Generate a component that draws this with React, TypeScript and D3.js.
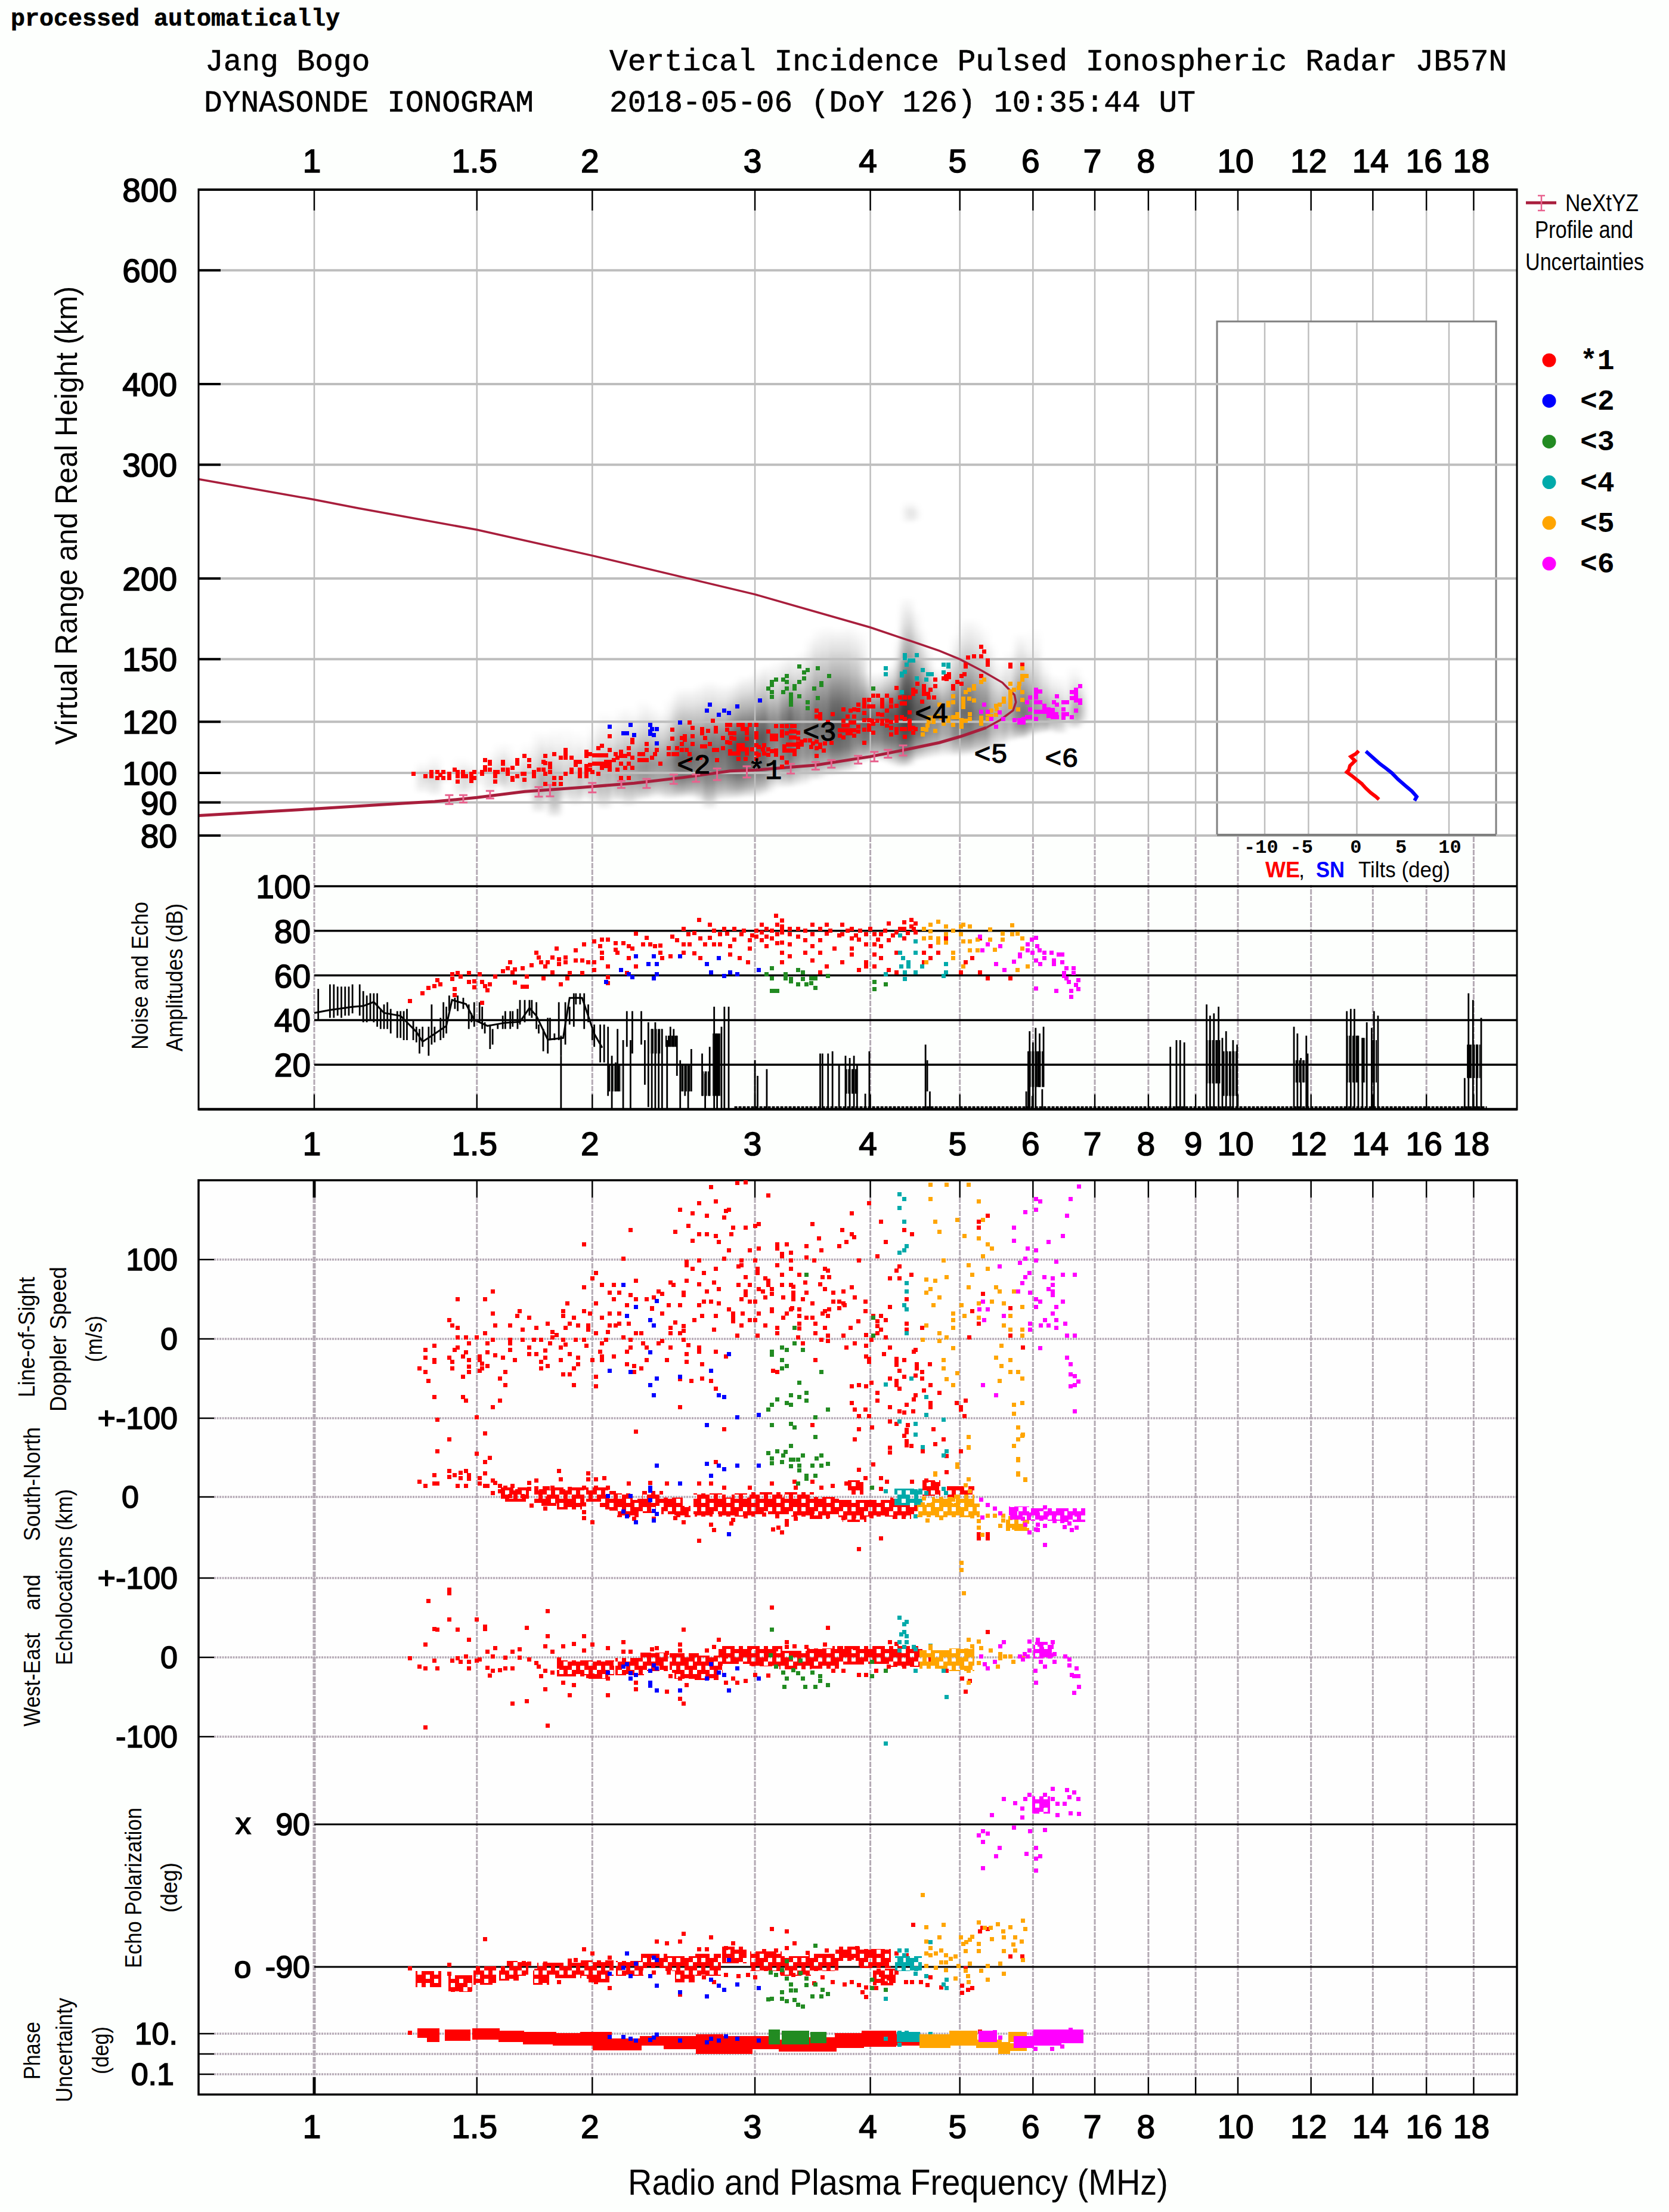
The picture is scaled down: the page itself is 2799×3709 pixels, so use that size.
import * as d3 from "d3";
import { useEffect, useRef } from "react";

const W = 2799;
const H = 3709;
const SANS = '"Liberation Sans", Arial, sans-serif';
const MONO = '"Liberation Mono", monospace';

const gridFreqs = [1, 1.5, 2, 3, 4, 5, 6, 7, 8, 9, 10, 12, 14, 16, 18];
const topLabels = [1, 1.5, 2, 3, 4, 5, 6, 7, 8, 10, 12, 14, 16, 18];
const midLabels = [1, 1.5, 2, 3, 4, 5, 6, 7, 8, 9, 10, 12, 14, 16, 18];
const heightTicks = [800, 600, 400, 300, 200, 150, 120, 100, 90, 80];
const ampTicks = [100, 80, 60, 40, 20];
const tiltGrid = [-10, -5.25, 0, 10];
const tiltLabels = [["-10", -10.4], ["-5", -6], ["0", -0.1], ["5", 4.8], ["10", 10.1]];

const seriesColors = ["#ff0000", "#0000ff", "#228b22", "#00aaaa", "#ffa500", "#ff00ff"];
const seriesNames = ["*1", "<2", "<3", "<4", "<5", "<6"];
// where the layer names sit on the ionogram, frequency and height of the text start
const traceLabels = [["*1", 2.95, 97.9], ["<2", 2.47, 99.8], ["<3", 3.38, 112.1], ["<4", 4.47, 119.8], ["<5", 5.18, 103.7], ["<6", 6.18, 102.2]];

// NeXtYZ profile, up the underside and back along the top side
const profileF = [0.75, 1, 1.255, 1.35, 1.5, 1.69, 1.95, 2.22, 2.51, 2.82, 3, 3.28, 3.49, 3.75, 4, 4.22, 4.47, 4.75, 5, 5.34, 5.53, 5.71, 5.75, 5.73, 5.56, 5.28, 5, 4.75, 4.37, 4, 3, 2, 1.5, 1.115, 1, 0.75];
const profileH = [85.9, 88, 89.8, 90.3, 91.6, 93.6, 95, 96.4, 98.4, 100.7, 101, 102.1, 102.8, 104.5, 106, 107.6, 109.4, 111.4, 113.8, 117.5, 120.8, 125, 128.7, 132, 138, 144, 150, 154.6, 161, 168, 189, 217, 238, 257, 265, 285];
// f, low, high
const profileErr = [[1.4, 89.5, 92.4], [1.45, 90, 92.4], [1.55, 91.3, 93.8], [1.75, 91.9, 95.1], [1.8, 92, 95.8], [2, 93.3, 96.5], [2.15, 94.8, 97.2], [2.29, 94.8, 97.9], [2.45, 96.2, 99.4], [2.59, 96.9, 99.5], [2.73, 97.5, 101.6], [2.94, 98.4, 102.4], [3.28, 99.8, 103.3], [3.49, 101.2, 104], [3.63, 101.9, 104.7], [3.88, 103.4, 106.3], [4.04, 104.2, 107.8], [4.18, 105.6, 108.6], [4.34, 106.4, 110.3]];

// raw echo amplitude behind the trace: f, top height, darkest height, bottom height, darkness
const echoHalo = [[1.31,104.7,98.5,92.8,.2],[1.33,100.4,98,96,.08],[1.35,107,98,92,.25],[1.38,101.8,98.5,96.2,.1],[1.44,106.3,98,92,.2],[1.47,105.5,98,92.8,.2],[1.5,103.3,98,95.5,.1],[1.55,108.6,99,92.8,.2],[1.59,111.7,100,94.8,.28],[1.62,111.7,100,92.8,.25],[1.67,108.6,98,92.8,.22],[1.7,111.7,99,92,.3],[1.75,116.6,96,86.4,.45],[1.78,115.8,98,90.8,.4],[1.82,117.5,94,85.2,.55],[1.87,118.3,98,90.2,.35],[1.92,116.6,98,88.9,.35],[1.96,114.9,98,90.8,.3],[2.01,120,100,89.5,.4],[2.06,125,100,87.6,.5],[2.11,123,101,90,.45],[2.15,126.5,101,90.2,.45],[2.19,127,102,88.5,.5],[2.23,124,102,90,.5],[2.27,130.2,102,90.8,.6],[2.31,128,103,91,.55],[2.35,126,103,92,.5],[2.39,124,103,91,.5],[2.43,130.6,104,90.8,.55],[2.47,134,105,91,.65],[2.5,136.4,105,91.5,.75],[2.54,135,106,91.5,.75],[2.58,136.4,106,91.5,.8],[2.63,138,107,90,.8],[2.68,139.4,107,87.6,.85],[2.73,138,108,90.5,.8],[2.78,137.4,108,90.8,.8],[2.83,137.4,110,91,.85],[2.87,139,110,91,.85],[2.91,141.8,110,91.5,.85],[2.95,141,112,91.5,.85],[3,143.1,113,91.5,.9],[3.05,146,113,92,.9],[3.1,147.6,115,93,.9],[3.18,149.5,116,94.6,.9],[3.25,152.1,117,94.6,.9],[3.3,152,118,95,.9],[3.38,154.8,119,95.5,.9],[3.46,163,119,97,.85],[3.52,168,120,97.5,.85],[3.59,169.1,120,98.8,.85],[3.65,168,120,99,.85],[3.7,167.6,120,99.7,.85],[3.76,169,120,100,.85],[3.82,169.1,120,100.6,.85],[3.9,166.2,121,103.3,.85],[3.96,143,121,104,.85],[4.03,143.5,122,104.5,.85],[4.11,143.1,122,104.1,.85],[4.18,146,123,103.5,.9],[4.25,148.2,123,102.3,.9],[4.32,161.8,124,101.5,.85],[4.37,187.9,125,102,.85],[4.4,187.9,125,102.3,.85],[4.47,179.8,126,104.1,.8],[4.53,168,126,104.5,.75],[4.6,157.6,126,105,.7],[4.68,146,125,105.5,.7],[4.77,145.6,125,106,.7],[4.89,154.8,124,106,.7],[4.97,165,124,106,.7],[5.05,173.6,124,106,.7],[5.12,174,124,106.5,.7],[5.2,173.6,123,106.9,.7],[5.3,169.1,123,107,.65],[5.38,160,123,107.8,.6],[5.53,149.5,123,109.8,.6],[5.67,154.8,123,111.7,.6],[5.8,165,124,112.7,.6],[5.85,164.8,124,112.7,.6],[5.95,155,124,114,.55],[6.03,167.6,124,114.7,.5],[6.15,150,123,115,.5],[6.25,143.1,123,115.8,.5],[6.41,141.8,123,114.7,.5],[6.65,147,124,116.8,.5],[6.75,141.8,125,118.8,.35],[4.41,265,254,243,.14],[4.46,262,252,245,.08]];

// tilts inset: tilt in deg, height in km
const tiltWE = [[.2,108.2],[-.1,107.1],[-.65,106],[-.2,104.4],[-.75,102.6],[-.87,101.1],[-1.09,100.3],[-.54,99],[0,97.6],[.54,96.2],[.98,94.7],[1.5,93.2],[2.07,91.9],[2.4,91]];
const tiltSN = [[.98,108],[1.63,106],[2.5,103.3],[3.15,101.7],[3.8,100],[4.46,97.8],[5.33,95.4],[5.98,93.7],[6.5,91.9],[6.26,90.6]];

// virtual height of the echoes, f and km. Blocks are dense patches: f1, f2, v1, v2
const hRed = [[1.28,99.6],[1.32,98.9],[1.34,98.9],[1.34,100.4],[1.36,100.4],[1.38,100.4],[1.36,98.2],[1.38,98.2],[1.37,99.2],[1.4,98.2],[1.4,99.6],[1.42,101.1],[1.43,100.4],[1.43,98.9],[1.43,96.9],[1.45,100.4],[1.45,98.9],[1.46,98.9],[1.48,99.6],[1.48,98.2],[1.48,97.2],[1.49,98.2],[1.49,100.4],[1.52,100.4],[1.52,99.6],[1.53,101.1],[1.55,101.1],[1.53,102.1],[1.55,103.3],[1.53,104.7],[1.55,104],[1.57,100.4],[1.57,98.9],[1.57,96.9],[1.58,100.4],[1.6,104],[1.6,103.3],[1.6,101.1],[1.62,101.1],[1.62,99.6],[1.64,101.8],[1.64,98.2],[1.64,97.5],[1.66,98.9],[1.66,104.7],[1.66,103.3],[1.68,99.6],[1.69,99.6],[1.69,97.5],[1.69,106.3],[1.71,104.7],[1.71,102.5],[1.73,100.4],[1.73,98.9],[1.75,101.1],[1.77,101.1],[1.77,104],[1.78,106.3],[1.78,103.6],[1.8,103.3],[1.8,100.4],[1.78,99.6],[1.8,102.1],[1.82,107],[1.82,98.2],[1.78,96.2],[1.82,96.2],[1.85,98.2],[1.85,96.2],[1.85,105.5],[1.87,105.5],[1.87,107],[1.87,108.6],[1.9,105.5],[1.92,104],[1.92,103],[1.94,104],[1.87,99.6],[1.9,101.1],[1.9,100.4],[1.94,101.1],[1.94,99.6],[1.94,98.9],[1.97,107.8],[1.97,106.3],[1.99,107],[2.01,106.4],[2.03,106.4],[2.05,106.4],[2.07,106.4],[2.03,109.3],[2.05,110.1],[2.09,108.6],[1.97,102.5],[1.97,101.1],[1.97,99.6],[1.97,98.9],[1.99,102.9],[1.99,101.1],[2.01,103.3],[2.03,103.3],[2.05,103.3],[2.07,104],[2.09,104],[2.09,102.5],[2.09,101.1],[2.03,99.6],[2,100.4],[2.05,101.8],[2.07,102.5],[2.15,98.2],[2.19,98.2],[2.13,101.1],[2.15,103.3],[2.17,101.8],[2.19,103.3],[2.21,101.8],[2.11,104.7],[2.13,105.5],[2.15,107.8],[2.15,106.3],[2.17,106.3],[2.19,107],[2.21,105.5],[2.19,109.3],[2.12,107],[2.09,114.1],[2.25,107],[2.25,104.7],[2.27,107],[2.27,104.7],[2.29,104.7],[2.32,105.5],[2.34,107],[2.35,108.6],[2.29,108.6],[2.29,110.9],[2.21,112.5],[2.21,111.7],[2.37,103.3],[2.44,116.6],[2.44,112.9],[2.42,109.3],[2.42,107],[2.45,107],[2.47,109.3],[2.47,107],[2.5,110.9],[2.5,113.3],[2.52,114.1],[2.52,112.5],[2.55,119.6],[2.57,117.5],[2.57,114.1],[2.57,110.9],[2.63,117],[2.63,115.2],[2.65,113.3],[2.67,116.2],[2.7,120.4],[2.72,117.5],[2.72,116],[2.5,108.6],[2.53,108.6],[2.55,107],[2.55,104.7],[2.62,105.5],[2.63,110],[2.65,110],[2.68,110.9],[2.71,108.6],[2.73,108.6],[2.73,104.7],[2.77,113.3],[2.77,109.3],[2.8,118.8],[2.8,116.6],[2.83,113.3],[2.8,111.7],
[2.82,118.8],[2.88,118.8],[2.91,118.8],[2.96,118.8],[3.01,118.8],[2.91,117],[2.94,117],[2.82,115.2],[2.85,115.2],[2.85,112.9],[2.82,111.3],[2.94,115.2],[2.94,112.9],[3.01,115.2],[3.01,113.5],[2.82,108],[2.88,110.3],[2.91,110.3],[2.88,108.7],[2.91,108.7],[2.94,108.7],[2.98,108.7],[2.82,107.2],[2.85,107.2],[2.88,107.2],[2.94,107.2],[2.88,105.2],[2.93,105.2],[3.01,110.3],[3.03,109.6],[3.06,108.7],[3.1,108.7],[3.13,108],[3.16,108.4],[3.01,107.2],[3.03,106.6],[3.01,105.2],[3.1,106.6],[3.16,106.6],[3.07,110.3],[3.07,107.2],[3.1,116],[3.16,118.2],[3.21,118.2],[3.25,118.2],[3.29,118.2],[3.31,118.2],[3.21,116],[3.21,114.3],[3.25,115.2],[3.28,116],[3.31,116],[3.34,115.5],[3.28,113.5],[3.31,113.5],[3.34,113],[3.13,114.3],[3.16,114.3],[3.13,112.7],[3.16,112.7],[3.23,109.9],[3.26,110.7],[3.29,110.7],[3.31,110.7],[3.34,111.1],[3.37,111.9],[3.4,112.3],[3.23,108.2],[3.26,108.4],[3.29,108.4],[3.31,108.4],[3.31,106.9],[3.37,110.7],[3.34,109.6],[3.21,105.5],[3.25,103.9],[3.21,102.2],[3.44,112.3],[3.47,111.1],[3.5,111.9],[3.53,110.7],[3.57,111.1],[3.63,111.3],[3.45,109.6],[3.5,109.2],[3.53,109.6],[3.56,108.4],[3.5,106.2],[3.5,124.8],[3.53,123.2],[3.5,122.2],[3.64,123.2],[3.53,121.6],[3.6,120],
[3.74,125.5],[3.81,125],[3.84,125.5],[3.88,127.7],[3.88,125.1],[3.78,122.3],[3.84,122.3],[3.74,120.4],[3.81,119.6],[3.74,118.4],[3.78,118.4],[3.71,116.5],[3.74,116.5],[3.78,116.5],[3.81,116.5],[3.84,116.5],[3.88,117.9],[3.94,120.6],[3.94,123.8],[3.71,114.3],[3.74,113.5],[3.78,115.1],[3.81,115.1],[3.84,114.3],[3.88,115.9],[3.84,119.6],[3.94,111.3],[4.03,115.5],[3.99,120.8],[3.99,118.4],[3.99,116.7],[3.94,116.7],[3.94,129.8],[3.99,129.8],[4.03,131.7],[4.08,131.7],[3.94,128.7],[3.94,126.8],[3.99,126.8],[4.03,126.8],[4.12,129.8],[4.12,128],[4.12,126.8],[4.21,129.8],[4.21,129],[4.21,126.8],[4.17,131.7],[4.17,124.8],[4.08,123.4],[4.12,123],[4.02,120.4],[4.07,120.4],[4.12,120.4],[4.17,120.4],[4.21,120],[4.03,119.2],[4.12,119.2],[4.17,118.4],[4.21,117.5],[4.21,114.7],[4.27,135.4],[4.27,127],[4.33,128],[4.36,128],[4.27,122.1],[4.33,122.1],[4.36,121.3],[4.41,124],[4.27,120.4],[4.41,120.4],[4.41,118.8],[4.27,117],[4.33,117],[4.36,117],[4.41,117],[4.45,117.5],[4.48,117],[4.27,115.5],[4.36,113.7],[4.45,115.5],[4.31,130.8],[4.36,130.8],[4.41,130.8],[4.45,132.6],[4.48,133.6],[4.45,134.5],[4.5,137.4],[4.57,136.4],[4.57,134.5],[4.57,132.6],[4.62,132.6],[4.63,130.8],[4.69,130.8],[4.65,134.5],[4.7,136.4],[4.7,139.4],[4.55,128.9],[4.83,141.2],[4.87,142.2],[4.8,140.2],[4.84,139.9],[4.87,140.7],[5.02,141.2],[5.06,142.2],[4.97,138.4],[5.02,137.4],[4.92,136.4],[4.92,135],[5.27,156.8],[5.31,154],[5.18,151.7],[5.27,151.7],[5.1,150.9],[5.07,147.1],[5.07,146.2],[5.36,149.2],[5.36,147.1],[5.27,141.2],[5.67,147.1],[5.67,146.2],[5.84,147.1]];
const hRedBlocks = [[2.25,2.4,104,107],[2.42,2.6,107,110],[2.6,2.85,108,112],[2.85,3.4,106,111],[3.4,3.65,110,113],[3.75,4,114,118],[4,4.2,119,123],[4.25,4.5,115,118],[4.3,4.5,130,133]];
const hBlue = [[2.09,117.8],[2.2,118.7],[2.16,115.3],[2.18,115.3],[2.22,114.4],[2.31,118.7],[2.32,117],[2.35,117],[2.31,115.9],[2.31,114.9],[2.33,114.4],[2.35,111.1],[2.49,119.6],[2.66,124.9],[2.68,127.6],[2.74,123],[2.78,124.9],[2.81,123.8],[2.87,126.7],[3.04,129.6]];
const hGreen = [[3.35,146.2],[3.51,145.2],[3.42,144.2],[3.39,143.1],[3.61,141.2],[3.25,141.2],[3.39,140.2],[3.16,139.4],[3.13,138.4],[3.22,139.4],[3.25,138.2],[3.35,138.2],[3.13,136.9],[3.54,137.8],[3.54,136.8],[3.31,136.4],[3.31,135],[3.1,135.2],[3.25,135.2],[3.48,135.2],[3.13,133.4],[3.13,131.2],[3.22,133.4],[3.28,132.4],[3.28,130.8],[3.28,129],[3.28,127.6],[3.35,131.5],[3.51,130.6],[3.42,128.7],[3.42,125.9],[4.03,135.2]];
const hTeal = [[4.36,152.1],[4.36,150.7],[4.49,152.1],[4.41,149.2],[4.45,149.2],[4.38,147.1],[4.8,147.1],[4.86,147.1],[4.86,146.2],[4.16,145.2],[4.16,142.2],[4.36,143.3],[4.33,142.6],[4.33,141.7],[4.56,144.2],[4.62,142.2],[4.66,142.2],[4.8,143.1],[4.49,140.2],[4.6,139.4],[4.33,133.4]];
const hOrange = [[5.84,145.2],[5.84,141.2],[5.9,141.2],[5.84,139.4],[5.8,137.4],[5.79,135.4],[5.67,137.4],[5.67,133.6],[5.72,134.5],[5.67,132],[5.84,133.4],[5.27,138.4],[5.31,139.4],[5.18,136.4],[5.18,135],[5.12,134.5],[5.07,133.4],[4.92,131.5],[4.92,128.7],[4.86,128.5],[4.86,127.2],[4.75,127.6],[5.04,130.3],[5.04,128.5],[5.04,126.6],[5.12,130.3],[5.18,129.5],[5.58,130.3],[5.58,129],[5.52,127.6],[5.47,127],[5.48,125.5],[5.41,124.8],[5.36,123.4],[5.47,123],[5.41,122.6],[5.36,121.3],[5.27,121.7],[5.27,120],[5.67,130.3],[5.67,128.5],[5.67,126.6],[5.84,129.8],[5.78,125.5],[4.63,121.7],[4.68,121.7],[4.63,120],[4.68,120],[4.73,122.6],[4.77,121.7],[4.86,121.7],[4.86,120.4],[4.8,119.2],[4.92,122.1],[4.97,123.4],[4.97,122.1],[4.92,118.8],[5.02,120.8],[5.07,120.4],[5.13,121.3],[5.02,119.2],[5.13,123.4],[5.02,117.9],[4.61,118.4],[4.56,117],[4.6,116.7],[4.7,116.2],[4.56,114.7],[5.27,119.2]];
const hPink = [[5.31,127.6],[5.27,124.3],[5.36,124.3],[5.52,124],[5.41,121.3],[5.47,117.9],[5.57,121.3],[5.73,120.8],[5.8,120.8],[5.8,119.6],[5.86,119.6],[5.86,121.3],[5.91,122.1],[5.96,122.1],[5.91,128.7],[5.96,130.8],[5.96,125.5],[6.05,134.5],[6.11,133.6],[6.05,132.6],[6.05,131],[6.05,128.7],[6.11,128.7],[6.17,127],[6.17,125.5],[6.24,125.5],[6.3,125.1],[6.3,123.4],[6.36,123.4],[6.05,124.3],[6.11,124.3],[6.17,124.3],[6.24,124.3],[6.05,121.3],[6.24,122.6],[6.3,122.1],[6.37,122.1],[6.37,131.4],[6.32,128.7],[6.37,127.6],[6.47,128.7],[6.53,128.7],[6.47,125.5],[6.47,123.4],[6.53,123.4],[6.47,121.7],[6.61,122.1],[6.68,124.8],[6.61,133.4],[6.68,134.5],[6.68,132.6],[6.75,136.2],[6.68,130.6],[6.61,130.6],[6.68,129.5],[6.75,129.5],[6.75,128.5]];

// noise spikes: f, low dB, high dB
const noiseSpikes = [[1.01,40,54],[1.04,41,56],[1.05,41,56],[1.06,42,55],[1.07,41,55],[1.08,42,55],[1.09,42,55],[1.1,43,56],[1.12,42,56],[1.13,39,53],[1.14,39,51],[1.15,40,52],[1.16,39,52],[1.17,37,52],[1.18,36,45],[1.19,36,47],[1.2,36,48],[1.21,34,45],[1.23,32,44],[1.24,32,44],[1.25,31,44],[1.26,31,45],[1.28,31,40],[1.29,30,37],[1.3,25,36],[1.31,28,37],[1.33,24,37],[1.34,29,47],[1.35,30,37],[1.37,31,41],[1.38,32,48],[1.39,34,46],[1.4,44,51],[1.42,45,50],[1.43,44,51],[1.45,45,50],[1.47,36,47],[1.48,39,43],[1.49,37,48],[1.51,39,48],[1.52,36,46],[1.53,34,39],[1.55,27,38],[1.56,29,36],[1.58,36,38],[1.6,36,42],[1.61,36,44],[1.63,36,44],[1.64,37,44],[1.66,36,45],[1.67,38,49],[1.69,39,49],[1.71,42,49],[1.72,41,49],[1.74,36,48],[1.75,34,38],[1.77,26,36],[1.79,25,41],[1.8,31,41],[1.82,31,34],[1.84,31,48],[1.85,0,24],[1.85,24,33],[1.87,29,48],[1.89,38,46],[1.91,37,52],[1.92,47,52],[1.94,47,52],[1.96,36,52],[1.98,39,47],[2,31,37],[2.01,28,38],[2.04,21,38],[2.06,21,38],[2.08,6,37],[2.1,0,24],[2.12,8,21],[2.13,8,36],[2.16,0,31],[2.18,28,44],[2.2,0,31],[2.21,25,44],[2.26,29,44],[2.28,11,31],[2.3,1,39],[2.32,0,36],[2.34,0,39],[2.36,0,34],[2.38,0,36],[2.41,0,31],[2.43,28,37],[2.45,28,36],[2.47,15,33],[2.49,0,22],[2.52,6,20],[2.54,0,20],[2.56,8,27],[2.63,6,25],[2.65,0,16],[2.68,6,28],[2.71,0,46],[2.73,0,34],[2.76,0,37],[2.78,0,46],[2.81,0,46],[3,0,22],[3.02,0,15],[3.09,0,18],[3.53,0,25],[3.55,0,25],[3.6,0,25],[3.64,0,26],[3.7,0,20],[3.76,0,24],[3.8,0,23],[3.84,0,24],[3.87,0,20],[3.95,0,7],[3.99,0,26],[4.59,0,29],[4.61,8,22],[4.64,0,8],[5.9,0,8],[5.93,0,26],[5.95,0,35],[5.99,0,6],[6,0,30],[6.04,0,36.5],[6.08,10,26],[6.1,10,34],[6.14,0,9],[6.16,10,37],[8.45,0,28],[8.58,0,31],[8.66,0,31],[8.75,0,30],[9.25,0,47],[9.33,0,42],[9.42,0,43],[9.53,0,46],[9.62,0,32],[9.71,0,35],[9.81,0,18],[9.88,0,31],[9.98,0,29],[11.5,0,37],[11.6,0,34],[11.7,0,23],[11.86,0,33],[11.9,0,25],[13.12,0,44],[13.25,0,45],[13.37,0,45],[13.5,0,33],[13.64,0,32],[13.79,0,39],[13.96,0,36.5],[14.04,0,44],[14.18,0,42],[17.6,0,14],[17.77,0,52],[17.97,0,49],[18.14,0,29],[18.34,0,41]];
// where the spikes run together: f1, f2, low, high
const noiseCores = [[9.24,9.57,11.6,31],[9.62,9.98,6,26],[13.12,13.5,12,33],[13.6,13.75,12,32],[13.96,14.14,12,31],[17.7,18.3,14,29],[5.93,6.16,10,26],[3.76,3.88,7,18],[2.7,2.76,6,34],[2.49,2.56,8,20],[2.63,2.68,6,17],[2.31,2.38,25,36],[2.4,2.47,28,33],[2.08,2.15,8,20],[11.5,11.9,12,22]];
const noiseMidF = [1,1.04,1.1,1.13,1.16,1.19,1.24,1.29,1.31,1.35,1.39,1.41,1.46,1.49,1.54,1.61,1.67,1.71,1.74,1.79,1.86,1.89,1.95,2.01,2.05];
const noiseMidDb = [43.2,44.5,45.9,46.3,48.1,43.2,41.9,34.7,30.3,33.8,37.4,49,47.2,40.1,37.4,38.8,39.2,45.4,41.9,31.2,32,49.9,49.9,33.8,27.6];

// echo amplitude, f and dB
const aRed = [[1.27,48.6],[1.31,52],[1.33,54.3],[1.35,55.2],[1.37,56],[1.36,57.9],[1.42,53.9],[1.42,51.2],[1.41,60.6],[1.41,58.4],[1.43,61],[1.44,59.6],[1.47,61],[1.47,57],[1.49,57.4],[1.49,54.7],[1.51,60.6],[1.52,57],[1.53,55.2],[1.54,53.4],[1.55,56],[1.52,47.6],[1.57,59.6],[1.6,61.9],[1.62,63.2],[1.63,65.9],[1.64,61.4],[1.65,62.8],[1.68,63.2],[1.7,59.6],[1.65,56.7],[1.68,55],[1.7,55],[1.72,64.6],[1.74,70.3],[1.75,68],[1.76,65.9],[1.79,65.9],[1.78,64.1],[1.81,68],[1.77,58.7],[1.81,61.4],[1.83,72.1],[1.84,67.2],[1.84,65],[1.87,68],[1.87,65.9],[1.85,56],[1.88,58.7],[1.89,61],[1.92,71.2],[1.92,66.8],[1.96,73.9],[1.95,61],[1.95,66.8],[1.98,65.9],[2.01,75.2],[2.01,65.9],[2.01,62.3],[2.04,73],[2.05,76.1],[2.08,76.1],[2.05,70.3],[2.05,67.7],[2.08,64.1],[2.08,59.2],[2.08,56.6],[2.12,74.4],[2.12,71.6],[2.13,70.3],[2.16,74.4],[2.19,73],[2.19,67.7],[2.21,72.1],[2.23,78.8],[2.23,64.1],[2.18,61],[2.27,73.9],[2.29,77],[2.31,73.9],[2.34,73],[2.37,73.4],[2.37,70.3],[2.38,67.7],[2.43,68.6],[2.44,77.5],[2.47,75.7],[2.51,73.9],[2.51,81],[2.51,70.3],[2.54,78.4],[2.55,73.9],[2.61,85],[2.62,76.6],[2.62,67.7],[2.65,73.9],[2.68,82.8],[2.71,80.1],[2.71,73.9],[2.75,78.4],[2.8,78.8],[2.82,73],[2.82,69.5],[2.85,81],[2.89,67.7],[2.9,78.4],[2.96,75.7],[2.96,72.1],[2.95,65.9],[2.58,79],[2.58,70],[2.68,77],[2.75,74],[2.78,81],[2.85,76],[2.92,80],[2.98,78],
[3.01,80.1],[3.01,77.5],[3.05,82.8],[3.05,79.3],[3.05,75.7],[3.09,81],[3.09,77.5],[3.09,73],[3.13,80.1],[3.13,76.6],[3.16,86.8],[3.17,82.8],[3.17,78.4],[3.17,74.4],[3.21,84.6],[3.21,80.1],[3.21,70.3],[3.21,82],[3.21,79.3],[3.21,74.8],[3.21,65.9],[3.27,81],[3.27,78.4],[3.27,73.9],[3.27,68.6],[3.34,81],[3.34,77.5],[3.4,80.1],[3.4,75.7],[3.4,70.3],[3.46,82.8],[3.46,78.4],[3.46,73],[3.46,66.8],[3.53,81],[3.53,75.7],[3.53,70.3],[3.53,61.4],[3.59,82.8],[3.59,78.8],[3.59,64.1],[3.66,72.1],[3.73,82.8],[3.73,78.4],[3.73,65.9],[3.82,81],[3.82,76.6],[3.82,72.1],[3.82,69.5],[3.89,76.1],[3.89,62.3],[3.96,78.4],[3.96,73.9],[3.96,65.9],[3.96,64.1],[4.04,78.4],[4.04,73.9],[4.04,69.5],[4.04,64.1],[4.11,78.4],[4.11,73],[4.11,67.7],[4.19,83.3],[4.19,75.7],[4.19,62.3],[4.27,79.3],[4.27,70.3],[4.27,61.4],[4.35,83.8],[4.35,81],[4.35,76.6],[4.43,85],[4.43,81.9],[4.48,83.3],[4.48,79.3],[4.57,70.3],[4.57,65.9],[4.65,73],[4.65,67.7],[4.74,70.3],[4.83,76.6],[4.92,70.3],[5.01,61.4],[5.07,65.9],[5.16,67.7],[5.26,76.6],[5.26,61.4],[5.36,58.7],[5.67,58.7],[3.9,80],[4,81],[4.08,76],[4.15,80],[4.23,78],[4.31,81],[4.39,79],[4.46,81],[3.62,80],[3.7,78],[3.78,80],[3.86,78]];
const aRedBlocks = [[1.72,1.9,64,70],[1.95,2.1,72,76],[2.1,2.3,70,75],[2.5,2.8,72,81],[2.9,3.3,77,83],[3.3,3.6,75,81],[3.6,4,75,82],[4,4.3,72,80],[4.3,4.5,78,84]];
const aBlue = [[2.07,57],[2.15,62.3],[2.19,60.6],[2.21,59.2],[2.23,68.6],[2.33,68.6],[2.3,65],[2.35,65],[2.33,58.8],[2.35,60.6],[2.49,68.6],[2.66,65],[2.69,61.4],[2.74,67.7],[2.78,59.7],[2.82,61.4],[2.87,60.6],[3.03,62.3]];
const aGreen = [[3.13,63.2],[3.13,58.7],[3.09,60.6],[3.24,60.6],[3.24,58.8],[3.28,58.3],[3.28,57.4],[3.34,62.3],[3.34,56],[3.38,61.4],[3.38,58.3],[3.41,56],[3.45,58.7],[3.45,56.5],[3.49,54.3],[3.49,58.8],[3.6,59.7],[3.13,53.2],[3.15,53.2],[3.17,53.2],[4.04,57],[4.04,53.9],[4.16,56]];
const aTeal = [[4.31,77.9],[4.48,75.2],[4.48,70.3],[4.31,70.3],[4.34,67.7],[4.32,64.1],[4.4,64.1],[4.4,65.9],[4.55,64.1],[4.36,61.4],[4.36,58.3],[4.16,60.6],[4.48,61.4],[4.83,65],[4.8,59.7],[4.83,61.4]];
const aOrange = [[4.57,81],[4.57,76.6],[4.65,82.8],[4.65,79.7],[4.65,77],[4.74,84],[4.74,76.6],[4.74,74.8],[4.83,81.9],[4.83,78.4],[4.83,74.8],[4.92,80.1],[4.92,70.3],[4.92,67.7],[5.01,81.9],[5.01,78.4],[5.04,82.8],[5.04,75.2],[5.13,81.9],[5.13,75.2],[5.13,71.2],[5.23,76.1],[5.23,71.2],[5.39,80.6],[5.39,76.1],[5.46,71.6],[5.56,78.8],[5.56,76.1],[5.7,82.4],[5.7,78.4],[5.77,78.8],[5.77,62.3],[5.84,76.6],[5.84,72.1],[5.92,64.1],[4.6,65.9],[5.04,64.1]];
const aOrangeBlocks = [[4.6,4.9,76,83],[5,5.15,76,81],[5.5,5.8,72,79]];
const aPink = [[5.26,77.5],[5.36,73.9],[5.29,71.2],[5.53,73],[5.47,65],[5.59,62.3],[5.72,66.3],[5.81,69.5],[5.81,68.6],[5.92,73.9],[5.98,76.1],[6.05,76.8],[5.92,71.2],[5.99,70.3],[6.06,73],[6.1,71.2],[6.17,70.3],[6.28,70.3],[6.4,69.5],[6.45,69.5],[6.05,66.8],[6.11,65],[6.17,67.7],[6.32,66.8],[6.32,65],[6.45,65.9],[6.52,63.2],[6.64,63.2],[6.48,61],[6.64,61],[6.52,58.8],[6.56,57],[6.72,57.9],[6.68,55.7],[6.72,53.9],[6.05,54.1],[6.36,53.2],[6.6,53.2],[6.6,50.3],[6.48,59.7]];
const aPinkBlocks = [[5.9,6.1,68,74],[6.1,6.4,69,71]];

// line of sight Doppler, f and m/s
const dRed = [[2.87,196.6],[2.93,197],[2.69,191],[3.1,181],[2.61,171],[2.72,173],[2.81,163],[2.79,161],[2.49,163],[2.57,158],[2.66,155],[2.78,153],[3.82,158],[3.99,171],[4.11,147.5],[3.46,145],[3.03,145],[3,142.5],[2.54,142.5],[2.2,137],[2.46,135],[2.61,132],[2.66,132],[2.72,130],[2.83,132],[2.84,140],[2.93,140],[3.73,137],[3.82,132],[3.84,128],[3.52,127],[3.77,122],[3.7,117],[2.57,124],[2.74,122],[3.17,119],[3.25,119],[3.41,117],[3.03,114],[3.17,114],[2.81,112],[2.96,112],[3.54,112],[3.28,109],[3.21,107],[1.96,119],[4.16,122],[4.35,137],[4.44,132],[2.16,101],[2.78,101],[2.61,99],[2.53,97],[2.9,99],[3,99],[3.21,104],[3.28,99],[3.41,103],[3.48,99],[3.89,99],[4.07,104],[2.53,93],[3.17,93],[2.9,93],[2.72,88],[2.88,91],[2.57,88],[2.64,83],[3.02,88],[3.28,88],[3.57,88],[3.6,86],[4.3,91],[4.27,86],[2.02,83],[3.02,83],[3.21,81],[3.35,81],[2.93,78],[3.55,78],[3.61,78],[3.08,76],[2,76],[2.23,73],[2.53,73],[4.2,76],[4.3,76],[4.43,81],[3.1,73],[3.4,71],[3.53,69],[2.71,71],[2.43,71],[2.61,69],[2.45,68],[2.88,68],[2.96,68],[3.1,68],[3.21,68],[3.28,68],[1.96,65],[2.05,68],[2.11,68],[3.82,65],[3.57,63],[2.36,60],[2.74,63],[3.03,63],[3.13,63],[3.3,66],[1.56,60],[2.09,58],[2.14,58],[2.38,57],[2.51,58],[2.66,60],[2.93,60],[3.06,60],[3.3,58],[3.41,58],[3.65,58],[3.74,60],[2.2,55],[2.33,52],[2.51,55],[3.13,57],[3.3,53],[2.93,55],[1.43,50],[1.53,50],[2.11,50],[2.23,50],[2.29,50],[3.08,52],[3.22,52],[3.85,52],[2.9,50],[2.96,47],[3,47],[3.3,50],[3.38,50],[3.95,47],[4.38,50],[2.64,47],[2.69,47],[3.65,47],[3.7,47],[1.88,45],[2.02,45],[2.74,45],[3.46,45],[3.74,45],[2.18,42.5],[2.42,42.5],[2.61,42.5],[2.49,42.5],[2.32,39],[3.29,39],[3.75,42.5],[4.2,40],[2.81,37],[3.13,37],[3.13,35],[3.28,37],[3.35,37],[3.57,35],[3.61,37],[3.7,39],[3.95,35],[1.67,35],[1.86,35],[1.96,35],[1.99,32],[2.09,32],[2.14,32],[1.56,32],[1.66,29],[1.71,27],[1.86,29],[1.91,27],[2.05,27],[2.38,32],[2.32,38],[2.63,29],[2.72,29],[2.84,32],[2.84,27],[2.91,32],[3.03,32],[3.25,32],[3.35,29],[3.55,32],[3.6,29],[4.03,29],[4.11,29],[4.16,24],[1.4,24],[2.84,22],[2.96,24],[3,24],[3.22,27],[3.41,27],[3.46,27],[3.88,22],[4.07,22],[4.07,16],[1.41,17],[1.43,14],[1.57,17],[1.63,17],[1.68,12],[1.74,14],[1.79,19],[1.89,19],[1.93,17],[1.98,17],[1.98,12],[1.87,14],[2.09,17],[2.14,19],[2.19,19],[2.12,17],[2.43,14],[2.46,21],[2.51,16],[2.51,10],[2.43,7],[2.58,24],[2.9,17],[3.08,17],[3.17,14],[3.35,19],[3.35,13],[3.57,14],[3.81,14],[3.49,19],[4.38,19],[4.55,14],[4.11,12],[2.71,12],[1.53,7],[1.81,9],[1.83,5],[2.02,7],[2.08,9],[2.23,7],[2.26,7],[2.49,7],[2.87,4],[3.02,4],[3.17,7],[3.49,7],[3.6,4],[3.74,4],[3.96,5],[4.07,7],[4.16,2],[4.38,12],[1.43,2],[1.46,2],[1.5,2],[1.56,-1],[1.63,-1],[1.68,-1],[1.73,-1],[1.76,-1],[1.81,2],[1.86,-1],[1.92,-1],[1.96,-1],[2.07,-1],[2.16,2],[2.2,-1],[2.38,-3],[2.51,-1],[3.34,2],[3.54,-1],[3.6,-3],[4.01,-1],[1.35,-9],[1.43,-11],[1.42,-14],[1.47,-6],[1.54,-6],[1.63,-6],[1.63,-14],[1.71,-11],[1.8,-6],[1.85,-11],[1.87,-7.5],[1.97,-9],[2.05,-6],[2.04,-16],[2.2,-11],[2.27,-6],[2.29,-11],[2.36,-6],[2.43,-11],[2.61,-11],[2.54,-8],[3.21,-11],[3.31,-6],[3.38,-6],[3.85,-6],[3.96,-9],[3.77,-11],[4.2,-11],[4.48,-14],[4.46,-16],[4.14,-19],[1.32,-14],[1.46,-17],[1.45,-22],[1.51,-22],[1.54,-17],[1.57,-21],[1.6,-24],[1.65,-27],[1.71,-19],[1.74,-19],[1.78,-15],[1.78,-24],[1.89,-19],[1.93,-24],[2,-27],[2.05,-22],[2.05,-27],[2.11,-22],[2.18,-16],[2.53,-19],[2.61,-16],[2.72,-16],[2.79,-22],[3.96,-22],[3.99,-25],[4.27,-25],[4.35,-27],[3.99,-29],[1.32,-24],[1.35,-27],[1.35,-29],[1.4,-24],[1.41,-29],[1.47,-27],[1.51,-27],[1.52,-31],[1.54,-34],[1.76,-29],[1.79,-34],[1.85,-27],[1.93,-32],[2.29,-27],[2.41,-27],[2.53,-29],[2.63,-32],[3.49,-27],[4.27,-29],[4.27,-33],[4.49,-32],[4.64,-32],[4.49,-37],[1.3,-37],[1.41,-37],[1.47,-35],[1.47,-42],[1.51,-40],[1.52,-37],[1.76,-37],[1.91,-37],[2.18,-32],[2.22,-34],[2.26,-37],[4.3,-40],[3.14,-40],[3.17,-42],[4.55,-42],[1.32,-42],[1.61,-42],[1.86,-45],[1.89,-45],[1.45,-47.5],[2.02,-47.5],[2.22,-42],[4.35,-47.5],[4.55,-50],[4.48,-46.5],[1.33,-53],[1.59,-50],[2.56,-53],[2.49,-51],[2.63,-50],[2.69,-53],[4.2,-50],[4.27,-53],[1.61,-58],[1.91,-58],[2.02,-60],[4.01,-55],[3.89,-58],[3.82,-60],[3.96,-60],[4.27,-58],[4.65,-58],[4.3,-63],[2.72,-63],[1.35,-73],[1.45,-73],[1.46,-78],[1.59,-78],[4.07,-68],[4.48,-71],[4.57,-65],[4.75,-68],[4.07,-78],[4.46,-76],[5.07,-78],[1.56,-86],[2.49,-86],[4.96,-81],[3.82,-81],[4.2,-86],[4.38,-83],[4.65,-81],[4.65,-86],[5.01,-86],[4.3,-91],[4.45,-91],[3.85,-89],[3.95,-89],[5.01,-89],[4.35,-93],[5.06,-97],[3.89,-97],[3.99,-97],[1.36,-102],[1.5,-99],[4.2,-104],[4.27,-107],[4.39,-109],[4.02,-112],[3.46,-109],[2.78,-114],[2.23,-117],[3.89,-114],[4.68,-114],[4.38,-115],[4.38,-118],[4.35,-122],[1.53,-119],[1.4,-127],[3.85,-127],[4.38,-129],[4.38,-134],[4.43,-135],[4.7,-133],[4.8,-127],[4.56,-142],[4.2,-137],[4.2,-143],[5.01,-142],[1.36,-142],[1.5,-145],[1.55,-150],[1.53,-155],[4.03,-158],[2.72,-155],[3.89,-165],[4.84,-168],[4.84,-148],[5.24,147.5],[5.36,155],[5.24,140],[5.24,19],[5.16,35],[5.67,39],[5.85,-11],[5.3,57],[5.67,4],[5.12,2]];
const dBlue = [[2.16,68],[2.35,47.5],[2.23,40],[2.18,29],[2.31,24],[2.33,17],[2.31,-17],[2.81,-19],[2.69,-40],[2.09,-40],[2.2,-42],[2.35,-50],[2.49,-47.5],[2.31,-58],[2.33,-71],[2.74,-71],[2.78,-73],[2.87,-99],[3.03,-96],[2.66,-109]];
const dGreen = [[3.41,81],[3.31,14],[4.03,27],[4.03,4],[3.31,-6],[3.38,-14],[3.13,-16],[3.13,-20],[3.25,-14],[3.21,-11],[3.21,-27],[3.25,-34],[3.21,-37],[3.54,-42],[3.35,-55],[3.28,-71],[3.35,-73],[3.41,-68],[3.41,-78],[3.17,-76],[3.13,-83],[3.25,-81],[3.28,-83],[3.1,-89],[3.6,-89],[3.49,-99],[3.13,-109],[3.28,-107],[3.31,-112],[3.49,-124]];
const dTeal = [[4.3,182],[4.35,176],[4.3,165],[4.35,147.5],[4.38,117],[4.3,109],[4.35,112],[4.38,70],[4.38,60],[4.35,42.5],[4.38,37],[4.38,7],[4.43,-50],[4.16,-57.5],[4.6,-73],[4.3,-104],[4.48,-107],[4.8,-102],[4.6,-96]];
const dOrange = [[4.65,194],[4.84,194],[5.11,194],[4.65,176],[5.24,173],[4.7,147.5],[4.97,150],[5.3,150],[4.75,135],[5.06,130],[5.24,127],[5.36,119],[5.42,114],[5.3,104],[4.8,99],[5.11,93],[5.36,88],[4.6,75],[4.7,73],[4.84,78],[5.16,81],[4.6,58],[4.65,63],[4.75,52],[5.11,65],[5.47,65],[5.52,60],[5.72,60],[4.68,42.5],[5.02,42.5],[4.92,32],[4.92,24],[5.06,29],[5.24,27],[5.24,45],[5.42,47],[5.58,45],[5.84,40],[5.67,29],[4.6,17],[4.92,14],[5.58,17],[5.67,12],[5.84,12],[4.75,7],[4.84,2],[5.84,4],[4.56,-1],[4.75,-3],[4.92,-12],[5.55,-9],[5.47,-24],[5.67,-27],[5.55,-34],[4.8,-27],[4.8,-37],[4.97,-43],[4.84,-51],[4.92,-58],[5.67,-42],[5.78,-42],[5.52,-53],[5.84,-50],[5.72,-83],[5.84,-81],[5.72,-94],[5.78,-112],[5.84,-122],[5.11,-124],[5.11,-137],[5.72,-135],[5.78,-153],[4.97,-161],[4.7,-171],[5.78,-171],[5.89,-178]];
const dPink = [[6.73,192],[6.05,176],[6.11,173],[6.59,176],[5.89,160],[6.05,163],[6.53,155],[5.72,140],[6.46,130],[5.72,124],[6.24,122],[5.92,114],[6.05,112],[5.89,101],[5.81,96],[6.05,99],[6.36,97],[5.52,91],[5.95,83],[5.89,78],[6.46,81],[6.66,81],[6.17,78],[6.3,76],[5.84,70],[6.3,68],[6.24,63],[6.3,60],[5.78,60],[5.96,58],[6.3,55],[6.05,50],[6.11,47],[5.3,47],[6.46,47],[6.05,40],[6.36,40],[5.25,37],[5.36,37],[6.3,32],[5.58,29],[5.31,24],[6.18,24],[6.36,24],[5.96,19],[6.5,19],[6.12,17],[6.24,17],[6.36,14],[5.96,12],[6.53,4],[6.66,4],[6.11,-12],[6.53,-24],[6.59,-32],[6.59,-45],[6.66,-47],[6.72,-54],[6.66,-58],[6.59,-60],[5.3,-58],[5.47,-71],[6.66,-91]];

// South-North echolocation, f and km
const sRed = [[1.3,19],[1.32,14],[1.35,28],[1.35,17],[1.36,17],[1.4,33],[1.4,25.5],[1.42,28],[1.44,31],[1.44,24],[1.46,33],[1.47,28],[1.47,23],[1.43,14],[1.46,14],[1.51,24],[1.51,17],[1.53,30],[1.53,14],[1.54,14],[1.56,21],[1.57,18],[1.56,5],[1.59,14],[1.61,12],[1.59,7],[1.63,1],[1.64,14],[1.66,7],[1.68,1],[1.71,18],[1.71,10],[1.74,21],[1.76,7],[1.79,-2],[1.81,12],[1.84,33],[1.85,22],[1.86,7],[1.89,10],[1.93,4],[1.72,-11],[1.78,-14],[1.98,30],[1.98,22],[2.02,22],[2.06,24],[2.02,12],[1.96,12],[2.08,12],[2.19,17],[2.31,18],[2.41,17],[2.49,17],[2.61,17],[2.69,17],[2.78,12],[2.96,12],[3.13,17],[3.31,19],[3.32,12],[3.46,19],[3.54,12],[3.64,14],[3.77,17],[3.95,24],[4.11,24],[4.17,19],[4.44,19],[4.6,21],[4.68,17],[4.11,10],[1.96,-9],[1.96,-19],[1.96,-26],[2,-31],[2.05,-10],[2.22,-27],[2.33,-27],[2.46,-26],[2.51,-31],[2.69,-34],[2.71,-41],[2.83,-33],[2.93,-24],[2.84,-28],[3.07,-22],[3.17,-24],[3.25,-30],[3.25,-34],[3.32,-27],[3.46,-19],[3.6,-24],[3.74,-26],[3.84,-24],[4.01,-24],[4.17,-22],[4.35,-22],[3.14,-40],[3.18,-38],[3.21,-44],[2.61,-54],[3.89,-64],[4.11,-51],[5.24,-46],[5.24,-51],[5.36,-46],[5.36,-51]];
const sRedBlocks = [[1.61,1.69,7,-1],[1.75,1.78,8,-2],[1.78,1.81,4,-6],[1.84,1.94,7,-3],[1.85,1.93,-3,-10],[1.99,2.06,7,-1],[2.07,2.1,2,-10],[2.11,2.19,-1,-12],[2.15,2.22,-9,-20],[2.26,2.32,-7,-15],[2.29,2.36,2,-6],[2.4,2.48,-6,-16],[2.48,2.53,-16,-20],[2.6,2.76,-1,-16],[2.61,2.67,-16,-19],[2.77,2.97,-6,-19],[2.86,2.91,-1,-6],[2.99,3.18,1,-16],[3.22,3.42,-6,-16],[3.26,3.44,1,-6],[3.32,3.4,-16,-19],[3.45,3.66,-5,-16],[3.46,3.57,-16,-22],[3.73,3.92,-9,-20],[3.77,3.92,-20,-26],[3.94,4.22,-9,-19],[4.25,4.48,-6,-16],[4.27,4.38,-16,-22],[4.89,5.13,8,4],[4.6,4.71,16,7],[3.82,3.89,16,8]];
const sBlue = [[2.35,40],[2.66,42],[2.74,40],[2.78,35],[2.87,40],[3.03,40],[2.69,27],[2.31,12],[2.49,17],[2.08,1],[2.2,1],[2.31,-4],[2.16,-18],[2.18,-24],[2.23,-31],[2.33,-17],[2.35,-21],[2.33,-29],[2.81,-46],[2.31,8]];
const sGreen = [[3.1,56],[3.17,58],[3.13,49],[3.13,43],[3.22,53],[3.21,44],[3.24,57],[3.28,65],[3.28,47],[3.28,39],[3.34,47],[3.35,40],[3.35,34],[3.38,53],[3.46,40],[3.5,49],[3.54,53],[3.54,40],[3.6,42],[3.41,23],[3.34,17],[3.49,27],[4.02,12],[3.49,76],[3.41,27],[3.3,47]];
const sTeal = [[4.48,7],[4.6,5],[4.8,10],[4.83,5],[4.16,7],[4.48,-24],[4.84,58],[4.8,53],[4.56,63],[4.48,79]];
const sTealBlocks = [[4.29,4.51,5,-5]];
const sOrange = [[5.11,76],[5.11,63],[4.97,41],[4.7,30],[5.11,22],[5.07,15],[5.13,7],[4.92,-3],[4.57,-2],[4.56,-9],[4.61,-29],[4.77,-26],[5.16,-24],[5.24,-30],[5.24,-38],[5.29,-47],[5.36,-23],[5.46,-23],[5.57,-23],[5.57,-29],[5.53,-36],[5.67,-26],[5.72,-38],[5.85,79],[5.78,73],[5.72,65],[5.78,48],[5.78,30],[5.89,22],[5.02,-81],[5.02,-90]];
const sOrangeBlocks = [[4.54,4.86,-15,-20],[4.65,4.86,-12,-15],[4.71,4.86,-5,-12],[4.89,5.2,-13,-20],[4.98,5.13,-2,-9],[5.67,5.88,-29,-37]];
const sPink = [[5.27,-3],[5.36,-10],[5.46,-14],[5.53,-20],[5.74,-20],[5.85,-20],[5.95,-22],[5.85,-27],[6.07,-22],[6.21,-22],[6.33,-22],[6.57,-20],[6.69,-22],[6.45,-24],[6.45,-30],[6.57,-33],[6.18,-13],[6.33,-30],[5.29,-25],[5.89,-34],[6.07,-34],[6.07,-41],[6.18,-36],[5.94,-26],[6.49,-37],[6.69,-38],[6.61,-41],[5.95,-44],[6.05,-40],[6.18,-59]];
const sPinkBlocks = [[5.71,5.88,-17,-23],[6.03,6.41,-19,-24],[6.51,6.76,-19,-26]];

// West-East echolocation, f and km
const wRed = [[1.27,-1],[1.3,-12],[1.32,-14],[1.35,-4],[1.36,-14],[1.32,16],[1.35,36],[1.36,35],[1.33,71],[1.4,85],[1.4,81],[1.4,48],[1.43,35],[1.47,22],[1.5,48],[1.53,39],[1.53,36],[1.41,-4],[1.43,-1],[1.44,-6],[1.47,-6],[1.46,1],[1.47,-14],[1.5,-4],[1.51,-3],[1.54,7],[1.57,12],[1.56,1],[1.54,-13],[1.56,-17],[1.55,-23],[1.61,0],[1.61,-14],[1.59,-16],[1.64,7],[1.67,10],[1.67,0],[1.64,-14],[1.71,-3],[1.7,37],[1.7,-55],[1.64,-58],[1.74,-7],[1.75,-12],[1.78,14],[1.78,-17],[1.76,-24],[1.79,58],[1.79,27],[1.81,7],[1.81,-19],[1.84,-3],[1.84,-12],[1.86,14],[1.86,-32],[1.89,-12],[1.91,17],[1.91,-35],[1.78,-40],[1.89,-48],[1.79,-86],[1.32,-88],[1.96,27],[1.96,9],[2,16],[2,-23],[2.04,-24],[2.08,12],[2.08,-27],[2.08,-48],[2.16,19],[2.16,7],[2.2,7],[2.23,-32],[2.23,-40],[2.32,10],[2.35,12],[2.41,6],[2.41,-43],[2.49,16],[2.49,9],[2.43,-24],[2.49,-27],[2.53,-35],[2.51,35],[2.49,-52],[2.51,-58],[2.57,-3],[2.71,13],[2.66,9],[2.74,22],[2.79,1],[2.79,-32],[2.84,-27],[2.87,-32],[2.93,-30],[2.96,12],[3,-22],[3.1,-23],[3.13,63],[3.16,10],[3.25,19],[3.25,13],[3.31,14],[3.41,13],[3.6,37],[3.57,16],[3.65,-17],[3.74,-17],[3.7,12],[3.77,12],[3.85,12],[4.2,19],[4.27,17],[3.89,-22],[3.96,-22],[4.06,-17],[5.36,32],[5.07,-43],[5.03,-27],[5.13,-30],[4.84,-17],[4.65,-3],[4.19,-12],[4.35,-12]];
const wRedBlocks = [[4.25,4.51,9,-7],[3.94,4.19,9,-3],[3.68,3.92,9,-4],[3.45,3.66,6,-9],[3.22,3.42,3,-10],[2.99,3.18,9,-6],[2.77,2.95,9,-3],[2.61,2.74,-3,-14],[2.45,2.58,0,-14],[2.28,2.39,1,-12],[2.14,2.25,-6,-17],[1.96,2.09,-9,-17],[1.85,1.94,-9,-19],[2.48,2.58,-16,-22],[2.61,2.71,-17,-23],[1.99,2.06,-17,-22]];
const wBlue = [[2.16,-12],[2.18,-9],[2.2,-20],[2.2,-27],[2.08,-19],[2.23,-22],[2.31,-17],[2.31,-32],[2.31,-36],[2.33,-10],[2.35,-14],[2.35,-42],[2.49,-42],[2.66,-27],[2.69,-9],[2.74,-19],[2.78,-22],[2.81,-42],[2.87,-14],[3.03,-27]];
const wGreen = [[3.13,35],[3.12,3],[3.16,-12],[3.28,0],[3.3,-16],[3.34,-20],[3.38,-27],[3.36,-4],[3.46,-19],[3.53,-24],[3.53,-30],[3.6,-35],[3.23,-37],[3.4,-37],[3.49,-37],[3.25,-27],[3.22,-19],[4.02,-24],[4.16,-17],[4.02,-6]];
const wTeal = [[4.3,50],[4.35,42],[4.38,45],[4.35,32],[4.38,27],[4.32,29],[4.3,19],[4.38,19],[4.35,13],[4.3,9],[4.46,13],[4.48,10],[4.65,15],[4.55,4],[4.48,-17],[4.8,-17],[4.84,-50],[4.16,-109]];
const wOrange = [[5.05,81],[5.11,22],[5.16,14],[5.24,20],[5.27,12],[5.4,9],[5.24,-7],[5.5,-12],[5.53,-1],[5.67,1],[5.71,-6],[5.85,0],[5.16,7],[4.65,14],[4.65,12],[5.11,-17],[5.11,-32],[5.53,4],[5.6,1]];
const wOrangeBlocks = [[4.57,4.86,4,-9],[4.92,5.13,6,-12]];
const wPink = [[5.27,1],[5.32,-9],[5.36,-14],[5.46,-6],[5.53,14],[5.58,19],[5.95,20],[6.07,22],[6.1,16],[6.14,10],[6.3,19],[6.21,7],[6.33,4],[6.5,1],[6.57,-3],[6.12,-6],[6.18,-12],[6.04,-17],[6.33,-6],[6.57,-10],[6.69,-14],[6.65,-24],[6.72,-24],[6.61,-22],[6.05,-32],[6.73,-37],[6.65,-45],[5.81,1],[5.92,1],[5.85,-3],[5.88,4],[5.95,9],[6.14,6],[6.21,3]];
const wPinkBlocks = [[6.07,6.25,14,4]];

// echo polarization, f and deg
const pRed = [[1.27,-92],[1.4,-87],[1.4,-99],[1.53,-55],[1.96,-68],[2,-73],[1.92,-81],[2.09,-78],[2.35,-58],[2.41,-60],[2.49,-58],[2.51,-48],[2.69,-53],[2.61,-68],[2.66,-68],[2.84,-60],[3.13,-42],[3.25,-45],[3.31,-60],[3.25,-66],[3.16,-69],[3.07,-70],[3.42,-72],[3.59,-69],[3.87,-66],[4.45,-37],[4.03,-70],[4.27,-73],[4.38,-75],[4.27,-97],[4.65,-103],[5.26,-45],[5.36,-42],[5.1,-119],[5.03,-114],[5.16,-117],[5.03,-123],[1.84,-109],[2.02,-109],[2.09,-117],[2.49,-125],[2.71,-109],[3.3,-100],[3.55,-103],[3.48,-111],[3.64,-109],[3.75,-112],[3.89,-113],[3.82,-109],[3.96,-116],[4.06,-117],[4.16,-111],[3.92,-122],[3.96,-128],[4.37,-109],[4.44,-109],[4.61,-113],[5.07,-92],[5.67,-77],[5.84,-77],[5.29,-41],[1.71,-86],[1.78,-86],[1.89,-82],[2.33,-97],[2.42,-97],[2.64,-103],[2.79,-100],[2.88,-102],[2.95,-100],[3,-103],[2.79,-66],[2.71,-81],[3.82,-78],[4.11,-100],[4.19,-105],[4.54,-109],[4.77,-116]];
const pRedBlocks = [[1.3,1.36,-100,-111],[1.41,1.47,-105,-117],[1.5,1.56,-94,-108],[1.6,1.65,-94,-103],[1.63,1.69,-87,-97],[1.74,1.78,-97,-108],[1.76,1.82,-89,-95],[1.84,1.93,-89,-100],[1.96,2.09,-86,-97],[1.99,2.07,-97,-105],[2.14,2.25,-87,-97],[2.28,2.39,-78,-87],[2.42,2.58,-81,-91],[2.48,2.56,-98,-105],[2.61,2.73,-78,-97],[2.79,2.91,-69,-81],[2.99,3.18,-75,-91],[3.22,3.42,-81,-97],[3.46,3.66,-78,-91],[3.7,3.89,-69,-78],[3.92,4.17,-72,-87],[4.06,4.22,-97,-109]];
const pBlue = [[2.18,-73],[2.16,-91],[2.23,-86],[2.33,-78],[2.35,-81],[2.2,-102],[2.09,-99],[2.31,-102],[2.49,-122],[2.35,-114],[2.69,-106],[2.74,-114],[2.78,-119],[2.87,-112],[2.66,-127],[3.03,-117],[2.81,-81]];
const pGreen = [[3.49,-63],[3.25,-83],[3.12,-97],[3.16,-100],[3.21,-94],[3.25,-105],[3.36,-98],[3.41,-105],[3.28,-112],[3.41,-113],[3.49,-112],[3.55,-119],[3.28,-120],[3.32,-120],[3.21,-122],[3.6,-124],[3.46,-127],[3.54,-127],[3.1,-131],[3.13,-130],[3.21,-130],[3.25,-133],[3.31,-132],[3.34,-138],[3.38,-140],[4.02,-106],[4.02,-117],[4.16,-119]];
const pTeal = [[4.3,-69],[4.38,-69],[4.35,-75],[4.32,-81],[4.65,-59],[4.48,-99],[4.6,-102],[4.84,-106],[4.8,-112],[4.84,-117],[4.16,-130]];
const pTealBlocks = [[4.29,4.51,-81,-91]];
const pOrange = [[4.56,1],[4.6,-40],[4.8,-37],[4.75,-53],[4.6,-58],[4.65,-66],[4.77,-69],[5.01,-53],[5.16,-52],[5.08,-59],[5.24,-34],[5.24,-61],[5.32,-41],[5.4,-41],[5.5,-36],[5.57,-45],[5.67,-40],[5.85,-32],[5.89,-42],[5.42,-55],[5.58,-53],[5.74,-53],[5.71,-62],[5.83,-58],[5.74,-69],[5.58,-70],[5.24,-70],[5.07,-70],[4.83,-75],[4.95,-77],[4.6,-73],[4.71,-73],[4.77,-84],[4.6,-89],[4.98,-89],[5.13,-86],[5.36,-89],[5.53,-86],[4.83,-94],[5.07,-95],[5.27,-95],[4.95,-105],[5.1,-102],[5.11,-109],[5.36,-106],[5.58,-99],[5.85,-81],[4.71,-91],[4.89,-80],[5.04,-61],[5.13,-56],[4.65,-75],[4.83,-84]];
const pPink = [[6.3,135],[6.53,133],[6.65,130],[5.95,127],[6.18,127],[5.58,122],[5.89,122],[5.74,117],[5.84,110],[6.07,119],[6.14,113],[6.3,122],[6.38,116],[6.57,124],[6.72,122],[6.49,116],[5.42,102],[5.84,99],[6.38,102],[6.59,104],[6.73,103],[5.72,86],[5.96,81],[6.18,83],[5.3,81],[5.36,78],[5.24,76],[5.3,68],[5.52,60],[6.05,60],[5.9,53],[5.47,50],[6.11,50],[6.05,47],[5.3,35],[6.05,32]];
const pPinkBlocks = [[6.04,6.21,121,108]];

// phase uncertainty, f and deg on a log axis
const uRed = [[1.27,11.2],[4.57,2.6],[4.68,2.6],[5.26,12.9]];
const uRedBlocks = [[1.3,1.36,14.8,7.4],[1.33,1.36,7.4,4.8],[1.39,1.47,12.9,5.6],[1.49,1.58,14.8,6.4],[1.59,1.68,11.2,4.8],[1.69,1.82,10.3,3.7],[1.82,1.94,8.5,3.2],[1.95,2.09,9.7,3.2],[2.01,2.09,3.2,1.82],[2.1,2.25,4.8,1.82],[2.26,2.4,6.4,3.2],[2.4,2.58,6.4,2.1],[2.6,2.76,7.4,1.2],[2.77,2.97,6.4,1.2],[2.99,3.18,6.4,2.1],[3.2,3.42,4.2,1.58],[3.45,3.66,5.6,1.58],[3.68,3.92,8.5,2.41],[3.93,4.25,11.2,2.77],[4.27,4.54,7.4,3.2]];
const uBlue = [[2.09,7],[2.16,7],[2.2,5.6],[2.23,4.5],[2.31,4.8],[2.33,6.4],[2.35,9.2],[2.49,4.5],[2.66,3.7],[2.69,5.6],[2.74,4.5],[2.79,7.4],[2.87,5.6],[3.03,4.5]];
const uGreenBlocks = [[3.12,3.18,12.9,3.7],[3.22,3.42,11.2,3.7],[3.46,3.57,9.7,4.2]];
const uTeal = [[4.3,11.2],[4.38,11.2],[4.3,2.77],[4.16,5.6],[4.58,7.4],[4.65,9.7],[4.8,7.4]];
const uTealBlocks = [[4.29,4.51,9.7,4.8]];
const uOrangeBlocks = [[4.54,4.86,7.4,2.41],[4.89,5.2,11.2,3.2],[5.23,5.53,4.2,2.41],[5.67,5.88,9.7,4.8],[5.53,5.64,3.2,1.2],[5.67,5.88,2.77,1.72]];
const uPink = [[6.04,1.72],[6.29,1.72],[5.46,12],[6.59,16],[5.53,6.4],[6.45,2.41]];
const uPinkBlocks = [[5.26,5.46,11.2,4.8],[5.74,5.99,6.4,2.41],[6.03,6.41,12.9,3.2],[6.45,6.77,12.9,4.2]];

// the dense patches are not solid in the original, this tile leaves holes in them
const speckle = ["110111", "011101", "111011", "101110", "110101", "011111"];

const App = () => {
  const svgRef = useRef(null);

  useEffect(() => {
    const svg = d3.select(svgRef.current);
    svg.selectAll("*").remove();

    const x = d3.scaleLog().domain([1, 10]).range([527, 2076]);
    const yHeight = d3.scaleLog().domain([80, 800]).range([1401, 318]);
    const yAmp = d3.scaleLinear().domain([0, 100]).range([1860, 1486]);
    const yDop = d3.scaleLinear().domain([-100, 100]).range([2378, 2112]);
    const ySN = d3.scaleLinear().domain([-100, 0, 100]).range([2646, 2510, 2378]);
    const yWE = d3.scaleLinear().domain([-100, 100]).range([2912, 2646]);
    const yPol = d3.scaleLinear().domain([-90, 90]).range([3298, 3059]);
    const yUnc = d3.scaleLog().domain([0.01, 10]).range([3512, 3410]);
    const xTilt = d3.scaleLinear().domain([-10, 10]).range([2121, 2430]);

    const left = 333;
    const right = 2544;

    const hline = (g, y, x1, x2, color, w, dash) =>
      g.append("line").attr("x1", x1).attr("x2", x2).attr("y1", y).attr("y2", y)
        .attr("stroke", color).attr("stroke-width", w).attr("stroke-dasharray", dash || null);
    const vline = (g, xv, y1, y2, color, w, dash) =>
      g.append("line").attr("x1", xv).attr("x2", xv).attr("y1", y1).attr("y2", y2)
        .attr("stroke", color).attr("stroke-width", w).attr("stroke-dasharray", dash || null);
    const label = (g, xv, y, txt, size, anchor = "middle", family = SANS, weight = "normal") =>
      g.append("text").attr("x", xv).attr("y", y).attr("text-anchor", anchor)
        .attr("font-family", family).attr("font-size", size).attr("font-weight", weight)
        .attr("fill", "#000").text(txt);
    // tick numbers are drawn heavier, like the bitmap font of the original
    const tickText = (g, xv, y, txt, size, anchor = "middle") =>
      label(g, xv, y, txt, size, anchor).attr("stroke", "#000").attr("stroke-width", 1.6);
    const vtext = (g, xv, yBottom, yTop, txt, size) =>
      g.append("text").attr("transform", `translate(${xv},${yBottom}) rotate(-90)`)
        .attr("dominant-baseline", "central").attr("font-family", SANS).attr("font-size", size)
        .attr("textLength", yBottom - yTop).attr("lengthAdjust", "spacingAndGlyphs").attr("fill", "#000").text(txt);

    // echoes are blocks of about 7px, as in the scaled up gif
    const points = (g, data, y, color) =>
      g.selectAll(null).data(data).enter().append("rect")
        .attr("x", (d) => x(d[0]) - 3.5).attr("y", (d) => y(d[1]) - 3.5)
        .attr("width", 7).attr("height", 7).attr("fill", color);
    const blocks = (g, data, y, fill, pad) =>
      g.selectAll(null).data(data).enter().append("rect")
        .attr("x", (d) => x(d[0]) - pad).attr("y", (d) => y(d[2]) - pad)
        .attr("width", (d) => x(d[1]) - x(d[0]) + pad * 2).attr("height", (d) => y(d[3]) - y(d[2]) + pad * 2).attr("fill", fill);

    // backgrounds
    svg.append("rect").attr("width", W).attr("height", H).attr("fill", "#fdfffd");
    svg.append("rect").attr("x", left).attr("y", 318).attr("width", right - left).attr("height", 1083).attr("fill", "#fff");
    svg.append("rect").attr("x", left).attr("y", 1979).attr("width", right - left).attr("height", 1533).attr("fill", "#fefefe");

    const defs = svg.append("defs");
    seriesColors.forEach((c, i) => {
      const tile = defs.append("pattern").attr("id", `speck${i}`).attr("patternUnits", "userSpaceOnUse")
        .attr("width", 42).attr("height", 42);
      speckle.forEach((row, r) => row.split("").forEach((on, k) => {
        if (on === "1") tile.append("rect").attr("x", k * 7).attr("y", r * 7).attr("width", 7).attr("height", 7).attr("fill", c);
      }));
    });
    const stripes = defs.append("pattern").attr("id", "noiseStripes").attr("patternUnits", "userSpaceOnUse")
      .attr("width", 5.6).attr("height", 10);
    stripes.append("rect").attr("width", 4).attr("height", 10).attr("fill", "#000");

    // halo under the grid, grid lines stay visible on top of it
    const blur = defs.append("filter").attr("id", "haloBlur").attr("filterUnits", "userSpaceOnUse")
      .attr("x", 0).attr("y", 0).attr("width", W).attr("height", H);
    blur.append("feGaussianBlur").attr("stdDeviation", "5 2");
    const halo = svg.append("g").attr("filter", "url(#haloBlur)");
    echoHalo.forEach((c, i) => {
      const [f, top, core, bottom, dark] = c;
      const y1 = yHeight(top);
      const y2 = yHeight(bottom);
      const mid = (yHeight(core) - y1) / (y2 - y1);
      const grad = defs.append("linearGradient").attr("id", `halo${i}`).attr("x1", 0).attr("x2", 0).attr("y1", 0).attr("y2", 1);
      const a = dark * 0.5;
      [[0, 0], [mid * 0.25, 0.16], [mid * 0.5, 0.4], [mid * 0.8, 0.82], [mid, 1], [mid + (1 - mid) * 0.5, 0.8], [mid + (1 - mid) * 0.8, 0.4], [1, 0]].forEach(([o, k]) =>
        grad.append("stop").attr("offset", o).attr("stop-color", "#000").attr("stop-opacity", k * a));
      halo.append("rect").attr("x", x(f) - 10).attr("y", y1).attr("width", 20).attr("height", y2 - y1).attr("fill", `url(#halo${i})`);
    });

    // top panel grid
    const top = svg.append("g");
    gridFreqs.forEach((f) => {
      const end = f >= 10 ? 539 : 1401;
      vline(top, x(f), 353, end, "#bebebe", 2.5);
      vline(top, x(f), 318, 353, "#000", 2.5);
    });

    // tilts inset covers the vertical lines only
    const inset = svg.append("g");
    inset.append("rect").attr("x", 2041).attr("y", 539).attr("width", 468).attr("height", 861)
      .attr("fill", "#fff").attr("stroke", "#808080").attr("stroke-width", 3);
    tiltGrid.forEach((t) => vline(inset, xTilt(t), 541, 1398, "#bebebe", 2.5));

    const topLines = svg.append("g");
    heightTicks.forEach((h) => {
      hline(topLines, yHeight(h), left, right, "#bebebe", 4);
      hline(topLines, yHeight(h), left, 370, "#000", 4);
      tickText(topLines, 297, yHeight(h) + 20, String(h), 55, "end");
    });
    hline(topLines, 318, left, right, "#000", 4);
    // the bottom edge of the inset lies over the 80 km line
    hline(topLines, 1400, 2041, 2509, "#808080", 4);
    const insetMarks = svg.append("g");
    const tiltLine = d3.line().x((d) => xTilt(d[0])).y((d) => yHeight(d[1]));
    insetMarks.append("path").attr("d", tiltLine(tiltWE)).attr("fill", "none").attr("stroke", "#ff0000").attr("stroke-width", 6);
    insetMarks.append("path").attr("d", tiltLine(tiltSN)).attr("fill", "none").attr("stroke", "#0000ff").attr("stroke-width", 6);

    // profile with its uncertainty bars, the underside is drawn heavier than the top side
    const profile = svg.append("g");
    const profileLine = d3.line().x((d) => x(d[0])).y((d) => yHeight(d[1]));
    const profilePts = profileF.map((f, i) => [f, profileH[i]]);
    profile.append("path").attr("d", profileLine(profilePts.slice(0, 20))).attr("fill", "none").attr("stroke", "#a81e3c").attr("stroke-width", 5);
    profile.append("path").attr("d", profileLine(profilePts.slice(19))).attr("fill", "none").attr("stroke", "#a81e3c").attr("stroke-width", 3.5);
    profileErr.forEach(([f, lo, hi]) => {
      vline(profile, x(f), yHeight(lo), yHeight(hi), "#e8628e", 3);
      hline(profile, yHeight(lo), x(f) - 7, x(f) + 7, "#e8628e", 3);
      hline(profile, yHeight(hi), x(f) - 7, x(f) + 7, "#e8628e", 3);
    });

    const ampGrid = svg.append("g");
    gridFreqs.forEach((f) => {
      vline(ampGrid, x(f), 1403, 1835, "#b4aab4", 3, "9 2");
      vline(ampGrid, x(f), 1835, 1860, "#000", 2.5);
    });
    // text block of the tilts hides the lines between 10 and 18
    ampGrid.append("rect").attr("x", x(10) + 6).attr("y", 1403).attr("width", x(18) - x(10) - 12).attr("height", 81).attr("fill", "#fdfffd");
    ampTicks.forEach((v) => {
      hline(ampGrid, yAmp(v), x(1), right, "#000", 3.5);
      tickText(ampGrid, 521, yAmp(v) + 20, String(v), 55, "end");
    });

    // noise
    const noise = svg.append("g");
    noise.selectAll(null).data(noiseCores).enter().append("rect")
      .attr("x", (d) => x(d[0])).attr("width", (d) => x(d[1]) - x(d[0]))
      .attr("y", (d) => yAmp(d[3])).attr("height", (d) => yAmp(d[2]) - yAmp(d[3])).attr("fill", "url(#noiseStripes)");
    noise.selectAll(null).data(noiseSpikes).enter().append("line")
      .attr("x1", (d) => x(d[0])).attr("x2", (d) => x(d[0]))
      .attr("y1", (d) => yAmp(d[1])).attr("y2", (d) => yAmp(d[2]))
      .attr("stroke", "#000").attr("stroke-width", 2.8);
    noise.append("path").attr("d", d3.line().x((d) => x(d)).y((d, i) => yAmp(noiseMidDb[i]))(noiseMidF))
      .attr("fill", "none").attr("stroke", "#000").attr("stroke-width", 3);
    hline(noise, yAmp(0.9), x(2.85), x(18.6), "#000", 3.5, "5 2");

    // bottom panel grid
    const low = svg.append("g");
    gridFreqs.forEach((f) => {
      vline(low, x(f), 2008, 3483, "#b4aab4", f === 1 ? 5 : 3, "9 2");
      vline(low, x(f), 1979, 2008, "#000", f === 1 ? 5 : 2.5);
      vline(low, x(f), 3483, 3512, "#000", f === 1 ? 5 : 2.5);
    });
    const dotted = [yDop(100), yDop(0), yDop(-100), ySN(0), ySN(-100), yWE(0), yWE(-100), yUnc(10), yUnc(1), yUnc(0.1)];
    dotted.forEach((y) => {
      hline(low, y, 359, right, "#b5a9b5", 3.5, "3 1.5");
      hline(low, y, left, 359, "#000", 2.5);
    });
    hline(low, yPol(90), x(1), right, "#000", 3);
    hline(low, yPol(-90), x(1), right, "#000", 3);

    const lowLabels = [[298, yDop(100), "100"], [298, yDop(0), "0"], [298, yDop(-100), "+-100"], [233, ySN(0), "0"], [298, ySN(-100), "+-100"], [298, yWE(0), "0"], [298, yWE(-100), "-100"], [298, yUnc(10), "10."], [292, yUnc(0.1), "0.1"], [520, yPol(90), "90"], [520, yPol(-90), "-90"]];
    lowLabels.forEach(([lx, ly, t]) => tickText(low, lx, ly + 18, t, 52, "end"));
    tickText(low, 408, yPol(90) + 16, "x", 52);
    tickText(low, 407, yPol(-90) + 18, "o", 52);

    // panel frames
    const frame = svg.append("g");
    vline(frame, left, 316, 1862, "#000", 3);
    vline(frame, right, 316, 1862, "#000", 3);
    hline(frame, 1860, left, right, "#000", 4.5);
    frame.append("rect").attr("x", left).attr("y", 1979).attr("width", right - left).attr("height", 1533)
      .attr("fill", "none").attr("stroke", "#000").attr("stroke-width", 3.5);

    // scatter series, one row per panel, series in the order of the legend
    const panels = [
      [yHeight, [hRed, hBlue, hGreen, hTeal, hOrange, hPink], [hRedBlocks], 4],
      [yAmp, [aRed, aBlue, aGreen, aTeal, aOrange, aPink], [aRedBlocks, [], [], [], aOrangeBlocks, aPinkBlocks], 4],
      [yDop, [dRed, dBlue, dGreen, dTeal, dOrange, dPink], [], 4],
      [ySN, [sRed, sBlue, sGreen, sTeal, sOrange, sPink], [sRedBlocks, [], [], sTealBlocks, sOrangeBlocks, sPinkBlocks], 7],
      [yWE, [wRed, wBlue, wGreen, wTeal, wOrange, wPink], [wRedBlocks, [], [], [], wOrangeBlocks, wPinkBlocks], 7],
      [yPol, [pRed, pBlue, pGreen, pTeal, pOrange, pPink], [pRedBlocks, [], [], pTealBlocks, [], pPinkBlocks], 6],
      [yUnc, [uRed, uBlue, [], uTeal, [], uPink], [uRedBlocks, [], uGreenBlocks, uTealBlocks, uOrangeBlocks, uPinkBlocks], 3],
    ];
    const marks = svg.append("g").attr("shape-rendering", "crispEdges");
    panels.forEach(([y, series, patches, pad]) => {
      series.forEach((data, i) => {
        const g = marks.append("g");
        // phase uncertainty is nearly solid, the other bands are speckled
        const fill = y === yUnc ? seriesColors[i] : `url(#speck${i})`;
        if (patches[i]) blocks(g, patches[i], y, fill, pad);
        points(g, data, y, seriesColors[i]);
      });
    });

    traceLabels.forEach(([t, f, h]) => label(svg, x(f), yHeight(h), t, 47, "start", MONO).attr("stroke", "#000").attr("stroke-width", 1.2));

    // frequency labels
    const freq = svg.append("g");
    topLabels.forEach((f) => tickText(freq, x(f) - 4, 289, String(f), 55));
    midLabels.forEach((f) => tickText(freq, x(f) - 4, 1937, String(f), 55));
    topLabels.forEach((f) => tickText(freq, x(f) - 4, 3585, String(f), 55));

    // header
    const head = svg.append("g").attr("stroke", "#000").attr("stroke-width", 0.6);
    label(head, 18, 43, "processed automatically", 40, "start", MONO, "bold");
    label(head, 344, 118, "Jang Bogo", 51.2, "start", MONO);
    label(head, 1022, 118, "Vertical Incidence Pulsed Ionospheric Radar JB57N", 51.2, "start", MONO);
    label(head, 342, 187, "DYNASONDE IONOGRAM", 51.2, "start", MONO);
    label(head, 1022, 187, "2018-05-06 (DoY 126) 10:35:44 UT", 51.2, "start", MONO);

    // axis titles
    const titles = svg.append("g");
    vtext(titles, 111, 1249, 480, "Virtual Range and Real Height (km)", 52);
    vtext(titles, 235, 1760, 1512, "Noise and Echo", 38);
    vtext(titles, 293, 1763, 1515, "Amplitudes (dB)", 38);
    vtext(titles, 45, 2343, 2141, "Line-of-Sight", 38);
    vtext(titles, 98, 2367, 2124, "Doppler Speed", 38);
    vtext(titles, 158, 2284, 2206, "(m/s)", 38);
    vtext(titles, 54, 2584, 2393, "South-North", 38);
    vtext(titles, 54, 2700, 2640, "and", 38);
    vtext(titles, 54, 2895, 2738, "West-East", 38);
    vtext(titles, 108, 2792, 2497, "Echolocations (km)", 38);
    vtext(titles, 224, 3300, 3031, "Echo Polarization", 38);
    vtext(titles, 284, 3207, 3123, "(deg)", 38);
    vtext(titles, 54, 3487, 3390, "Phase", 38);
    vtext(titles, 108, 3525, 3350, "Uncertainty", 38);
    vtext(titles, 169, 3478, 3398, "(deg)", 38);
    label(titles, 1053, 3680, "Radio and Plasma Frequency (MHz)", 62, "start")
      .attr("textLength", 906).attr("lengthAdjust", "spacingAndGlyphs");

    // tilt axis text
    const tilts = svg.append("g");
    tiltLabels.forEach(([t, v]) => label(tilts, xTilt(v), 1430, t, 32, "middle", MONO, "bold"));
    label(tilts, 2122, 1471, "WE", 36, "start", SANS, "bold").attr("fill", "#ff0000").attr("textLength", 58).attr("lengthAdjust", "spacingAndGlyphs");
    label(tilts, 2183, 1471, ",", 36);
    label(tilts, 2207, 1471, "SN", 36, "start", SANS, "bold").attr("fill", "#0000ff").attr("textLength", 48).attr("lengthAdjust", "spacingAndGlyphs");
    label(tilts, 2278, 1471, "Tilts (deg)", 36, "start").attr("textLength", 154).attr("lengthAdjust", "spacingAndGlyphs");

    // legends on the right
    const legend = svg.append("g");
    hline(legend, 340, 2559, 2610, "#a81e3c", 5);
    vline(legend, 2585, 328, 353, "#e8628e", 2.5);
    hline(legend, 328, 2579, 2591, "#e8628e", 2.5);
    hline(legend, 353, 2579, 2591, "#e8628e", 2.5);
    label(legend, 2625, 354, "NeXtYZ", 40, "start").attr("textLength", 123).attr("lengthAdjust", "spacingAndGlyphs");
    label(legend, 2574, 399, "Profile and", 40, "start").attr("textLength", 165).attr("lengthAdjust", "spacingAndGlyphs");
    label(legend, 2558, 453, "Uncertainties", 40, "start").attr("textLength", 199).attr("lengthAdjust", "spacingAndGlyphs");
    seriesNames.forEach((t, i) => {
      const ly = 604 + i * 68.2;
      legend.append("circle").attr("cx", 2598).attr("cy", ly).attr("r", 11.5).attr("fill", seriesColors[i]);
      label(legend, 2650, ly + 15, t, 48, "start", MONO, "bold");
    });
  }, []);

  return (
    <svg
      ref={svgRef}
      width={W}
      height={H}
      style={{ position: "absolute", left: 0, top: 0, display: "block" }}
    />
  );
};

export default App;
